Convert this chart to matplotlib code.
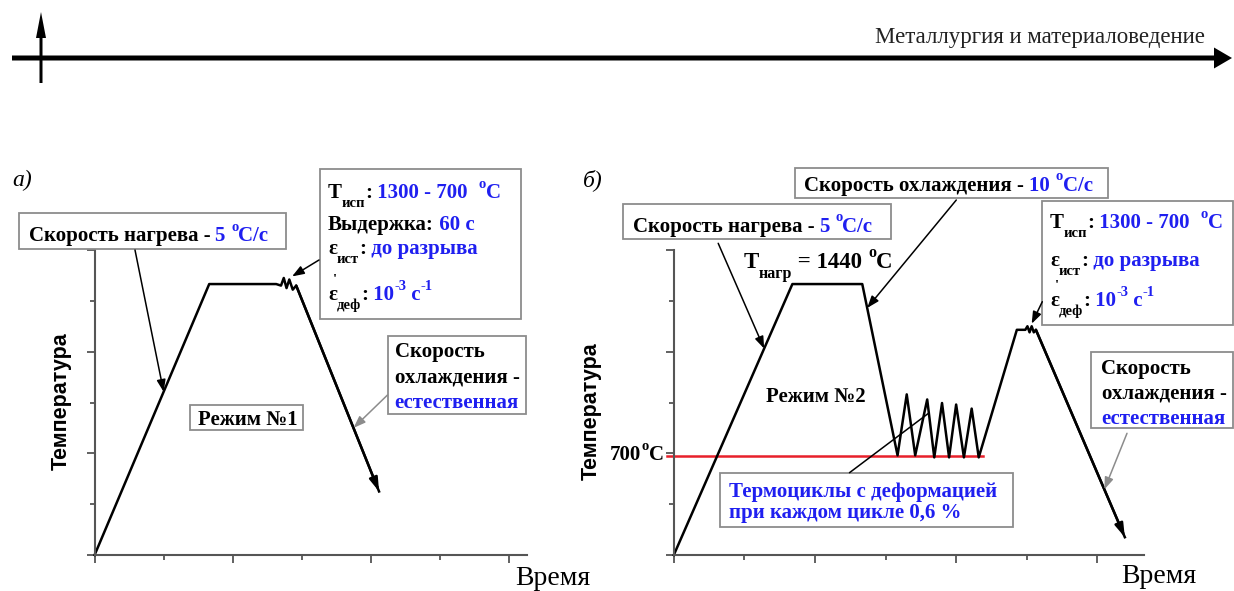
import matplotlib
matplotlib.use('Agg')
import matplotlib.pyplot as plt
from matplotlib.patches import Rectangle, FancyArrow

W, H = 1234, 591
BLUE = '#1f1ff0'
GRAY = '#8c8c8c'
SERIF = 'Liberation Serif'

# Режим 1: время и температура в делениях осей
t1 = [0, 1.66, 2.63, 2.70, 2.74, 2.78, 2.82, 2.87, 2.92, 4.12]
T1 = [0, 5.33, 5.33, 5.30, 5.45, 5.25, 5.42, 5.22, 5.30, 1.25]

# Режим 2 (с термоциклами)
t2 = [0, 1.68, 2.67, 3.17, 3.30, 3.42, 3.59, 3.69, 3.80, 3.90, 4.00, 4.11,
      4.22, 4.32, 4.86, 4.98, 5.01, 5.04, 5.07, 5.10, 5.13, 6.39]
T2 = [0, 5.33, 5.33, 1.96, 3.16, 1.96, 3.06, 1.92, 2.99, 1.92, 2.96, 1.92,
      2.88, 1.92, 4.43, 4.43, 4.50, 4.38, 4.50, 4.38, 4.43, 0.35]

# линия 700 C
t_red = [-0.09, 4.38]
T_red = [1.95, 1.95]

fig = plt.figure(figsize=(W / 100, H / 100), dpi=100)


def panel(x0, x1, xmax):
    # оси в пикселях исходной картинки
    ax = fig.add_axes([x0 / W, (H - 555) / H, (x1 - x0) / W, 305 / H])
    ax.set_xlim(0, xmax)
    ax.set_ylim(0, 6)
    for s in ['top', 'right']:
        ax.spines[s].set_visible(False)
    for s in ['left', 'bottom']:
        ax.spines[s].set_color('#555555')
        ax.spines[s].set_linewidth(1.5)
    ax.set_xticks([0, 2, 4, 6])
    ax.set_xticks([1, 3, 5], minor=True)
    ax.set_yticks([0, 2, 4, 6])
    ax.set_yticks([1, 3, 5], minor=True)
    ax.set_xticklabels([])
    ax.set_yticklabels([])
    ax.tick_params(which='major', length=6, width=1.3, color='#555555', direction='out')
    ax.tick_params(which='minor', length=3.5, width=1.3, color='#555555', direction='out')
    ax.patch.set_alpha(0)
    return ax


ax1 = panel(94.6, 526.8, 6.26)
ax2 = panel(673.8, 1143.9, 6.66)

ax1.plot(t1, T1, color='black', lw=1.8, clip_on=False)
ax1.annotate('', xy=(t1[-1], T1[-1]), xytext=(t1[-2], T1[-2]),
             arrowprops=dict(arrowstyle='-|>,head_length=0.8,head_width=0.25',
                             color='black', lw=1.8, shrinkA=0, shrinkB=0))

ax2.plot(t_red, T_red, color='#e8202a', lw=1.8, clip_on=False)
ax2.plot(t2, T2, color='black', lw=1.8, clip_on=False)
ax2.annotate('', xy=(t2[-1], T2[-1]), xytext=(t2[-2], T2[-2]),
             arrowprops=dict(arrowstyle='-|>,head_length=0.8,head_width=0.25',
                             color='black', lw=1.8, shrinkA=0, shrinkB=0))

# накладные оси в пикселях для подписей
ov = fig.add_axes([0, 0, 1, 1])
ov.set_xlim(0, W)
ov.set_ylim(H, 0)
ov.axis('off')
ov.patch.set_alpha(0)

fig.canvas.draw()
r = fig.canvas.get_renderer()


def chain(x, y, parts, fs=15, weight='bold'):
    for s, col, mode in parts:
        size = fs if mode == 'n' else fs * 0.7
        dy = {'n': 0, 'sub': 0.42, 'sup': -0.5, 'acc': -0.75}[mode] * fs * 100 / 72
        dx = -0.3 * fs if mode == 'acc' else 0
        t = ov.text(x + dx, y + dy, s, color=col, fontsize=size, fontweight=weight,
                    family=SERIF, va='baseline', ha='left', zorder=5)
        if mode != 'acc':
            x += t.get_window_extent(r).width
    return x


def box(x0, y0, x1, y1):
    ov.add_patch(Rectangle((x0, y0), x1 - x0, y1 - y0, facecolor='white',
                           edgecolor=GRAY, lw=1.3, zorder=3))


def arrow(src, dst, ax, col='black', head=True):
    st = '-|>,head_length=0.6,head_width=0.22' if head else '-'
    ov.annotate('', xy=dst, xycoords=ax.transData, xytext=src, textcoords='data',
                arrowprops=dict(arrowstyle=st, color=col, lw=1.1,
                                shrinkA=0, shrinkB=0, mutation_scale=12), zorder=4)


K = 'black'

# ---- шапка ----
ov.add_patch(FancyArrow(12, 58, 1220, 0, width=5, head_width=21, head_length=18,
                        length_includes_head=True, color='black', lw=0))
ov.add_patch(FancyArrow(41, 83, 0, -71, width=3, head_width=10, head_length=26,
                        length_includes_head=True, color='black', lw=0))
ov.text(1205, 43, 'Металлургия и материаловедение', ha='right', va='baseline',
        family=SERIF, fontsize=16.5, color='#222222')

# ---- панель а ----
ov.text(12, 186, 'а)', family=SERIF, fontsize=17, fontstyle='italic', va='baseline')
ov.text(61, 401, 'Температура', rotation=90, ha='center', va='center',
        family='Liberation Sans', fontweight='bold', fontsize=15.5)
ov.text(515, 585, 'Время', family=SERIF, fontsize=20, va='baseline')

box(18.6, 212.7, 285.7, 249.3)
chain(28.6, 241, [('Скорость нагрева - ', K, 'n'), ('5 ', BLUE, 'n'),
                  ('o', BLUE, 'sup'), ('C/с', BLUE, 'n')])

box(319.6, 169, 521.4, 319)
chain(328, 198, [('Т', K, 'n'), ('исп', K, 'sub'), (':', K, 'n'),
                 (' 1300 - 700  ', BLUE, 'n'), ('o', BLUE, 'sup'), ('C', BLUE, 'n')])
chain(328, 230, [('Выдержка:', K, 'n'), (' 60 с', BLUE, 'n')])
chain(328, 254, [('ε', K, 'n'), ('ист', K, 'sub'), (':', K, 'n'), (' до разрыва', BLUE, 'n')])
chain(328, 300, [('ε', K, 'n'), ("'", K, 'acc'), ('деф', K, 'sub'), (':', K, 'n'),
                 (' 10', BLUE, 'n'), ('-3', BLUE, 'sup'), (' с', BLUE, 'n'), ('-1', BLUE, 'sup')])

box(388, 336, 526, 414)
chain(394.6, 357, [('Скорость', K, 'n')])
chain(394.6, 382, [('охлаждения -', K, 'n')])
chain(394.6, 408, [('естественная', BLUE, 'n')])

box(190, 405, 303, 430)
chain(198, 425, [('Режим №1', K, 'n')])

arrow((135, 250), (1.0, 3.21), ax1)
arrow((319, 260), (2.86, 5.48), ax1)
arrow((387.5, 395), (3.75, 2.50), ax1, col=GRAY)

# ---- панель б ----
ov.text(583, 186, 'б)', family=SERIF, fontsize=17, fontstyle='italic', va='baseline')
ov.text(591, 411, 'Температура', rotation=90, ha='center', va='center',
        family='Liberation Sans', fontweight='bold', fontsize=15.5)
ov.text(1121, 583, 'Время', family=SERIF, fontsize=20, va='baseline')

box(623, 204, 890.6, 239.3)
chain(632.7, 231.7, [('Скорость нагрева - ', K, 'n'), ('5 ', BLUE, 'n'),
                     ('o', BLUE, 'sup'), ('C/с', BLUE, 'n')])

box(794.5, 168.3, 1107.9, 198.3)
chain(804.2, 190.7, [('Скорость охлаждения - ', K, 'n'), ('10 ', BLUE, 'n'),
                     ('o', BLUE, 'sup'), ('C/с', BLUE, 'n')])

box(1042.3, 200.7, 1232.5, 325)
chain(1050, 228, [('Т', K, 'n'), ('исп', K, 'sub'), (':', K, 'n'),
                  (' 1300 - 700  ', BLUE, 'n'), ('o', BLUE, 'sup'), ('C', BLUE, 'n')])
chain(1050, 266, [('ε', K, 'n'), ('ист', K, 'sub'), (':', K, 'n'), (' до разрыва', BLUE, 'n')])
chain(1050, 306, [('ε', K, 'n'), ("'", K, 'acc'), ('деф', K, 'sub'), (':', K, 'n'),
                  (' 10', BLUE, 'n'), ('-3', BLUE, 'sup'), (' с', BLUE, 'n'), ('-1', BLUE, 'sup')])

box(1091, 351.7, 1232.5, 428.3)
chain(1101.5, 374, [('Скорость', K, 'n')])
chain(1101.5, 399, [('охлаждения -', K, 'n')])
chain(1101.5, 424, [('естественная', BLUE, 'n')])

box(720, 473.3, 1012.7, 526.7)
chain(729.3, 497, [('Термоциклы с деформацией', BLUE, 'n')])
chain(729.3, 518, [('при каждом цикле 0,6 %', BLUE, 'n')])

chain(765.7, 401.7, [('Режим №2', K, 'n')])
chain(743.6, 268, [('Т', K, 'n'), ('нагр', K, 'sub'), (' = 1440 ', K, 'n'),
                   ('o', K, 'sup'), ('C', K, 'n')], fs=16.5)
chain(610, 460, [('700', K, 'n'), ('o', K, 'sup'), ('C', K, 'n')], fs=15)

arrow((718.2, 243.3), (1.28, 4.06), ax2)
arrow((956.3, 200), (2.74, 4.86), ax2)
arrow((1042.3, 301.7), (5.07, 4.55), ax2)
arrow((1127, 433.3), (6.10, 1.29), ax2, col=GRAY)
arrow((849.5, 472.7), (3.62, 2.80), ax2, head=False)

fig.savefig('out.png', dpi=100)
